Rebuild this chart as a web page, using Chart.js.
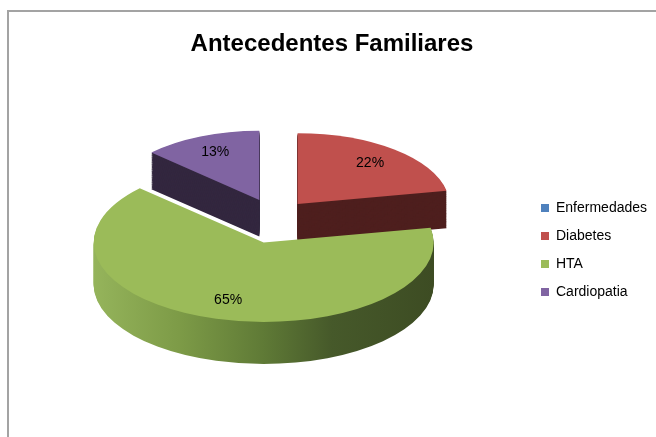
<!DOCTYPE html>
<html lang="es">
<head>
<meta charset="UTF-8">
<title>Antecedentes Familiares</title>
<script src="https://cdn.jsdelivr.net/npm/chart.js"></script>
<style>
  html, body { margin: 0; padding: 0; background: #fff; }
  #wrap { position: relative; width: 656px; height: 437px; }
</style>
</head>
<body>
<div id="wrap"><canvas id="pie"></canvas></div>
<script>
const categories = ['Enfermedades', 'Diabetes', 'HTA', 'Cardiopatia'];
const percents = [0, 22, 65, 13];
const topColors = ['#4F81BD', '#C0504D', '#9BBB59', '#8064A2'];
const sideColors = ['#2E4B6F', '#4E1F1E', 'gradient', '#33273F'];
const greenSideStops = [[0, '#95B45B'], [0.25, '#7D9B47'], [0.5, '#5F7A36'], [0.7, '#46592A'], [1, '#3D4C23']];

// where the tilted pie sits, how far slices are pulled out and how thick it is.
// "persp" shrinks the slices lying towards the back a little, a cheap stand-in for perspective.
const PIE = { cx: 274, cy: 226, tilt: 0.467, depth: 42, explode: 37, persp: 0.14, labelAt: 0.75 };

function sliceGeom(arc) {
  const mid = (arc.startAngle + arc.endAngle) / 2;
  const ex = Math.cos(mid) * PIE.explode;
  const ey = Math.sin(mid) * PIE.explode;
  const s = 1 + PIE.persp * Math.min(Math.sin(mid), 0);
  // scale about the rear-most point of the slice's circle
  return { mid, ex, ey, s, ax: ex, ay: ey - arc.outerRadius };
}

function drawSlice(ctx, arc, color, lift) {
  const g = sliceGeom(arc);
  ctx.save();
  ctx.translate(PIE.cx, PIE.cy + lift * g.s);
  ctx.scale(1, PIE.tilt);
  ctx.translate(g.ax, g.ay);
  ctx.scale(g.s, g.s);
  ctx.translate(-g.ax, -g.ay);
  ctx.translate(g.ex - arc.x, g.ey - arc.y);
  let fill = color;
  if (color === 'gradient') {
    fill = ctx.createLinearGradient(arc.x - arc.outerRadius, 0, arc.x + arc.outerRadius, 0);
    greenSideStops.forEach(st => fill.addColorStop(st[0], st[1]));
  }
  const el = Object.create(arc);
  el.options = Object.assign({}, arc.options, { backgroundColor: fill, borderWidth: 0, offset: 0 });
  arc.draw.call(el, ctx);
  ctx.restore();
}

const pie3d = {
  id: 'pie3d',
  beforeDraw(chart) {
    const ctx = chart.ctx;
    ctx.save();
    ctx.strokeStyle = '#A3A3A3';
    ctx.lineWidth = 2;
    ctx.beginPath();
    ctx.moveTo(8, 437);
    ctx.lineTo(8, 11);
    ctx.lineTo(656, 11);
    ctx.stroke();
    ctx.restore();
  },
  beforeDatasetsDraw(chart) {
    const ctx = chart.ctx;
    const arcs = chart.getDatasetMeta(0).data;
    // side walls, stacked from the bottom up
    for (let lift = PIE.depth; lift > 0; lift--) {
      arcs.forEach((arc, i) => drawSlice(ctx, arc, sideColors[i], lift));
    }
    // top faces
    arcs.forEach((arc, i) => drawSlice(ctx, arc, topColors[i], 0));

    // percentage labels
    ctx.save();
    ctx.font = '14px "Liberation Sans", Arial, sans-serif';
    ctx.fillStyle = '#000';
    ctx.textAlign = 'center';
    ctx.textBaseline = 'middle';
    arcs.forEach((arc, i) => {
      if (!percents[i]) return;
      const g = sliceGeom(arc);
      const r = arc.outerRadius * PIE.labelAt;
      const px = g.ex + Math.cos(g.mid) * r;
      const py = g.ey + Math.sin(g.mid) * r;
      const x = g.ax + g.s * (px - g.ax);
      const y = g.ay + g.s * (py - g.ay);
      ctx.fillText(percents[i] + '%', PIE.cx + x, PIE.cy + y * PIE.tilt);
    });
    ctx.restore();
    return false;
  }
};

new Chart(document.getElementById('pie'), {
  type: 'pie',
  data: {
    labels: categories,
    datasets: [{
      data: percents,
      backgroundColor: topColors,
      borderWidth: 0,
      radius: 170
    }]
  },
  options: {
    responsive: true,
    maintainAspectRatio: false,
    animation: false,
    events: [],
    layout: { padding: { top: 0, right: 0, bottom: 6, left: 8 } },
    plugins: {
      title: {
        display: true,
        text: 'Antecedentes Familiares',
        color: '#000',
        font: { family: '"Liberation Sans", Arial, sans-serif', size: 24, weight: 'bold' },
        padding: { top: 30, bottom: 10 }
      },
      legend: {
        position: 'right',
        fullSize: false,
        maxWidth: 129,
        labels: {
          color: '#000',
          boxWidth: 8,
          boxHeight: 8,
          padding: 14,
          font: { family: '"Liberation Sans", Arial, sans-serif', size: 14 }
        }
      },
      tooltip: { enabled: false }
    }
  },
  plugins: [pie3d]
});
</script>
</body>
</html>
